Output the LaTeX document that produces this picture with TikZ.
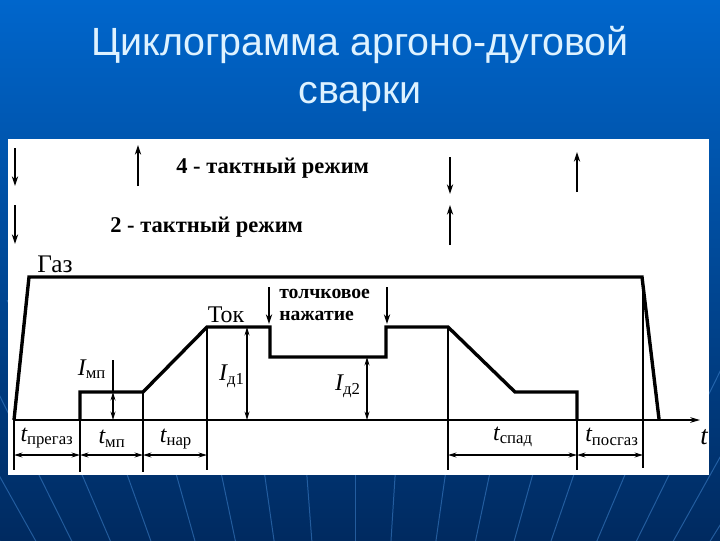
\documentclass[tikz,border=0pt]{standalone}
\usepackage{fontspec}
\setmainfont{Liberation Serif}
\newfontfamily\titlefont{Liberation Sans}
\usetikzlibrary{arrows.meta,calc}
\definecolor{slidetop}{RGB}{0,102,204}
\definecolor{slidebottom}{RGB}{0,42,96}
\definecolor{titletext}{RGB}{222,242,255}
\definecolor{raycolor}{RGB}{70,140,215}
\newcommand{\tlabel}[1]{{\itshape t}\textsubscript{#1}}
\newcommand{\ilabel}[1]{{\itshape I}\textsubscript{#1}}

\begin{document}
\begin{tikzpicture}[x=0.025cm,y=-0.025cm,
    curve/.style={line width=2.4pt,line join=miter},
    guide/.style={line width=0.9pt},
    dimarrow/.style={line width=0.8pt,{Stealth[length=6pt,width=3.5pt]}-{Stealth[length=6pt,width=3.5pt]}},
    modearrow/.style={line width=0.9pt,-{Stealth[length=7pt,width=4.5pt]}},
    ray/.style={raycolor,line width=0.7pt,opacity=0.5},
    lbl/.style={inner sep=0pt,font=\fontsize{17}{20}\selectfont},
    modetext/.style={inner sep=0pt,anchor=west,font=\bfseries\fontsize{16}{18}\selectfont},
    pushtext/.style={inner sep=0pt,anchor=base west,font=\bfseries\fontsize{14}{16}\selectfont}]
    \useasboundingbox (0,0) rectangle (720,540);
    \shade[top color=slidetop,bottom color=slidebottom] (0,0) rectangle (720,540);
    \begin{scope}
        \clip (0,300) rectangle (720,540);
        \coordinate (focus) at (355,1112);
        \foreach \x in {-40,0,40,83,128,177,222,265,307,355,395,445,489,532,573,624,668,709,750}
            \draw[ray] (focus) -- ($(focus)!1.35!(\x,477)$);
    \end{scope}
    \fill[white] (8,139) rectangle (709,475);

    \node[inner sep=0pt,titletext,font=\titlefont\fontsize{28}{34}\selectfont] (title1) at (360,45) {Циклограмма аргоно-дуговой};
    \node[inner sep=0pt,titletext,font=\titlefont\fontsize{28}{34}\selectfont] (title2) at (360,97) {сварки};

    \draw[modearrow] (15,148) -- (15,186);
    \draw[modearrow] (138,186) -- (138,145);
    \node[modetext] (mode4) at (176,168) {4 - тактный режим};
    \draw[modearrow] (450,157) -- (450,194);
    \draw[modearrow] (577,192) -- (577,152);
    \draw[modearrow] (15,205) -- (15,244);
    \node[modetext] (mode2) at (110,227) {2 - тактный режим};
    \draw[modearrow] (450,245) -- (450,205);

    \draw[guide,-{Stealth[length=7pt,width=4pt]}] (14,420) -- (700,420);
    \node[lbl,font=\fontsize{19}{20}\selectfont] (taxis) at (704,437) {\itshape t};

    \draw[curve] (14,420) -- (29,277) -- (642,277) -- (659,419);
    \node[lbl,font=\fontsize{18}{20}\selectfont] (gas) at (55,264) {Газ};

    \draw[curve] (80,420) -- (80,392) -- (143,392) -- (207,327) -- (270,327) -- (270,357) -- (386,357) -- (386,327) -- (448,327) -- (515,392) -- (577,392) -- (577,420);
    \node[lbl] (current) at (226,315) {Ток};

    \draw[modearrow] (269,287) -- (269,324);
    \draw[modearrow] (387,287) -- (387,324);
    \node[pushtext] (push1) at (279,298) {толчковое};
    \node[pushtext] (push2) at (279,320) {нажатие};

    \draw[guide] (14,420) -- (14,470);
    \draw[guide] (80,420) -- (80,472);
    \draw[guide] (143,392) -- (143,472);
    \draw[guide] (207,327) -- (207,470);
    \draw[guide] (448,327) -- (448,470);
    \draw[guide] (577,420) -- (577,470);
    \draw[guide] (643,277) -- (643,468);

    \draw[dimarrow] (14,455) -- (80,455);
    \draw[dimarrow] (80,455) -- (143,455);
    \draw[dimarrow] (143,455) -- (207,455);
    \draw[dimarrow] (448,455) -- (577,455);
    \draw[dimarrow] (577,455) -- (643,455);
    \node[lbl] (tpre) at (47,438) {\tlabel{прегаз}};
    \node[lbl] (tmp) at (112,439) {\tlabel{мп}};
    \node[lbl] (tnar) at (176,439) {\tlabel{нар}};
    \node[lbl] (tspad) at (513,437) {\tlabel{спад}};
    \node[lbl] (tpost) at (612,437) {\tlabel{посгаз}};

    \draw[guide] (113,360) -- (113,392);
    \draw[dimarrow] (113,392) -- (113,420);
    \node[lbl] (imp) at (92,369) {\ilabel{мп}};
    \draw[dimarrow] (247,327) -- (247,420);
    \node[lbl] (id1) at (232,376) {\ilabel{д1}};
    \draw[dimarrow] (367,357) -- (367,420);
    \node[lbl] (id2) at (348,386) {\ilabel{д2}};
\end{tikzpicture}
\end{document}
